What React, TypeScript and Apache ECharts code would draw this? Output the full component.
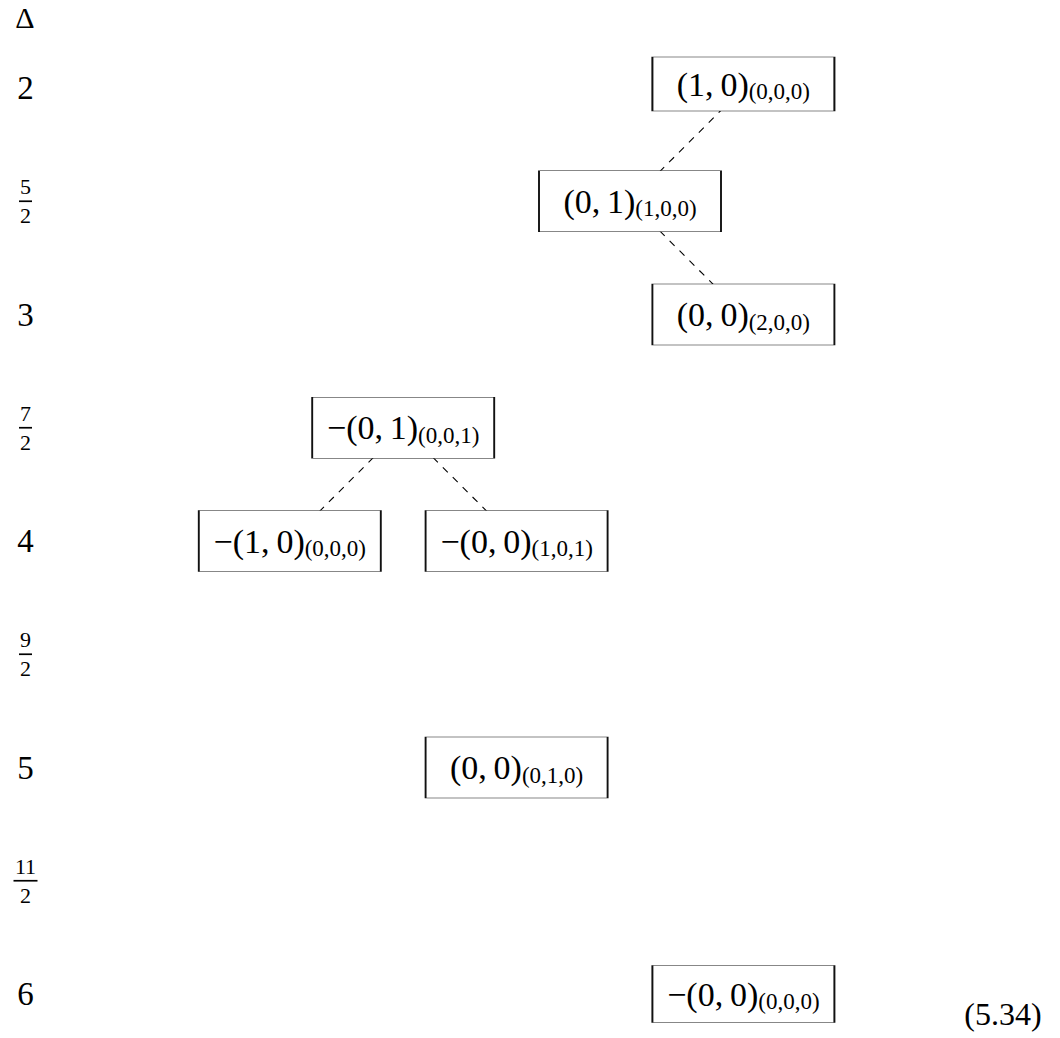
import React, { useEffect, useRef } from 'react';
import * as echarts from 'echarts';

// Row labels (Δ values, half steps from 2 to 6)
const deltaTickLabels = ['2', '5/2', '3', '7/2', '4', '9/2', '5', '11/2', '6'];

// Nodes: main label, subscript label, column, Δ row
const nodeMain = [
  '(1,\u20090)',
  '(0,\u20091)',
  '(0,\u20090)',
  '\u2212(0,\u20091)',
  '\u2212(1,\u20090)',
  '\u2212(0,\u20090)',
  '(0,\u20090)',
  '\u2212(0,\u20090)',
];
const nodeSub = ['(0,0,0)', '(1,0,0)', '(2,0,0)', '(0,0,1)', '(0,0,0)', '(1,0,1)', '(0,1,0)', '(0,0,0)'];
const nodeColumn = [4, 3, 4, 1, 0, 2, 2, 4];
const nodeDelta = [2, 2.5, 3, 3.5, 4, 4, 5, 6];

// Dashed connections (source index, target index)
const nodeLinks: [number, number][] = [
  [0, 1],
  [1, 2],
  [3, 4],
  [3, 5],
];

const FONT = 'Liberation Serif';

export default function App() {
  const ref = useRef<HTMLDivElement>(null);

  useEffect(() => {
    if (!ref.current) return;
    const chart = echarts.init(ref.current, undefined, { renderer: 'svg' });

    const boxSize = (i: number) => (i === 0 ? [182, 54] : i === 7 ? [182, 57] : [182, 61]);
    const boxOffset = (i: number) => (i === 0 ? [0, -4] : [0, 0]);

    const option: any = {
      animation: false,
      backgroundColor: '#fff',
      grid: {
        left: 63,
        right: 89.8,
        top: 88,
        bottom: 44,
        containLabel: false,
        outerBoundsMode: 'none',
      },
      xAxis: {
        type: 'value',
        min: -2,
        max: 6,
        show: false,
      },
      yAxis: {
        type: 'value',
        min: 2,
        max: 6,
        interval: 0.5,
        inverse: true,
        axisLine: { show: false },
        axisTick: { show: false },
        splitLine: { show: false },
        axisLabel: {
          show: true,
          margin: 37.5,
          align: 'center',
          color: '#000',
          fontFamily: FONT,
          formatter: (v: number) => {
            const idx = Math.round((v - 2) / 0.5);
            const t = deltaTickLabels[idx] ?? '';
            if (t.includes('/')) {
              const [n, d] = t.split('/');
              return `{n|${n}}\n{${n.length > 1 ? 'bw' : 'b'}|}\n{d|${d}}`;
            }
            return `{i|${t}}`;
          },
          rich: {
            i: { fontFamily: FONT, fontSize: 33, color: '#000' },
            n: { fontFamily: FONT, fontSize: 22, lineHeight: 27, color: '#000', align: 'center' },
            d: { fontFamily: FONT, fontSize: 22, lineHeight: 27, color: '#000', align: 'center' },
            b: { width: 13, height: 1.7, backgroundColor: '#000', align: 'center' },
            bw: { width: 24, height: 1.7, backgroundColor: '#000', align: 'center' },
          },
        },
      },
      series: [
        {
          type: 'lines',
          coordinateSystem: 'cartesian2d',
          z: 1,
          silent: true,
          polyline: false,
          lineStyle: { color: '#000', width: 1.1, type: [7, 7], opacity: 1, curveness: 0 },
          data: nodeLinks.map(([s, t]) => ({
            coords: [
              [nodeColumn[s], nodeDelta[s]],
              [nodeColumn[t], nodeDelta[t]],
            ],
          })),
        },
        {
          type: 'scatter',
          z: 3,
          silent: true,
          symbol: 'rect',
          itemStyle: { color: '#fff', borderColor: '#111', borderWidth: 1.1, opacity: 1 },
          label: {
            show: true,
            position: 'inside',
            color: '#000',
            formatter: (p: any) => `{m|${nodeMain[p.dataIndex]}}{s|${nodeSub[p.dataIndex]}}`,
            rich: {
              m: { fontFamily: FONT, fontSize: 34, lineHeight: 38, color: '#000', verticalAlign: 'middle' },
              s: { fontFamily: FONT, fontSize: 23, color: '#000', verticalAlign: 'bottom' },
            },
          },
          data: nodeMain.map((_, i) => ({
            value: [nodeColumn[i], nodeDelta[i]],
            symbolSize: boxSize(i),
            symbolOffset: boxOffset(i),
          })),
        },
      ],
      graphic: [
        {
          type: 'text',
          x: 25,
          y: 17,
          style: {
            text: '\u0394',
            fontFamily: FONT,
            fontSize: 30,
            fill: '#000',
            align: 'center',
            verticalAlign: 'middle',
          },
        },
        {
          type: 'text',
          x: 1003,
          y: 1014,
          style: {
            text: '(5.34)',
            fontFamily: FONT,
            fontSize: 32,
            fill: '#000',
            align: 'center',
            verticalAlign: 'middle',
          },
        },
      ],
    };

    chart.setOption(option);
    return () => chart.dispose();
  }, []);

  return (
    <div
      ref={ref}
      style={{ position: 'absolute', left: 0, top: 0, width: 1060, height: 1038, background: '#fff' }}
    />
  );
}
